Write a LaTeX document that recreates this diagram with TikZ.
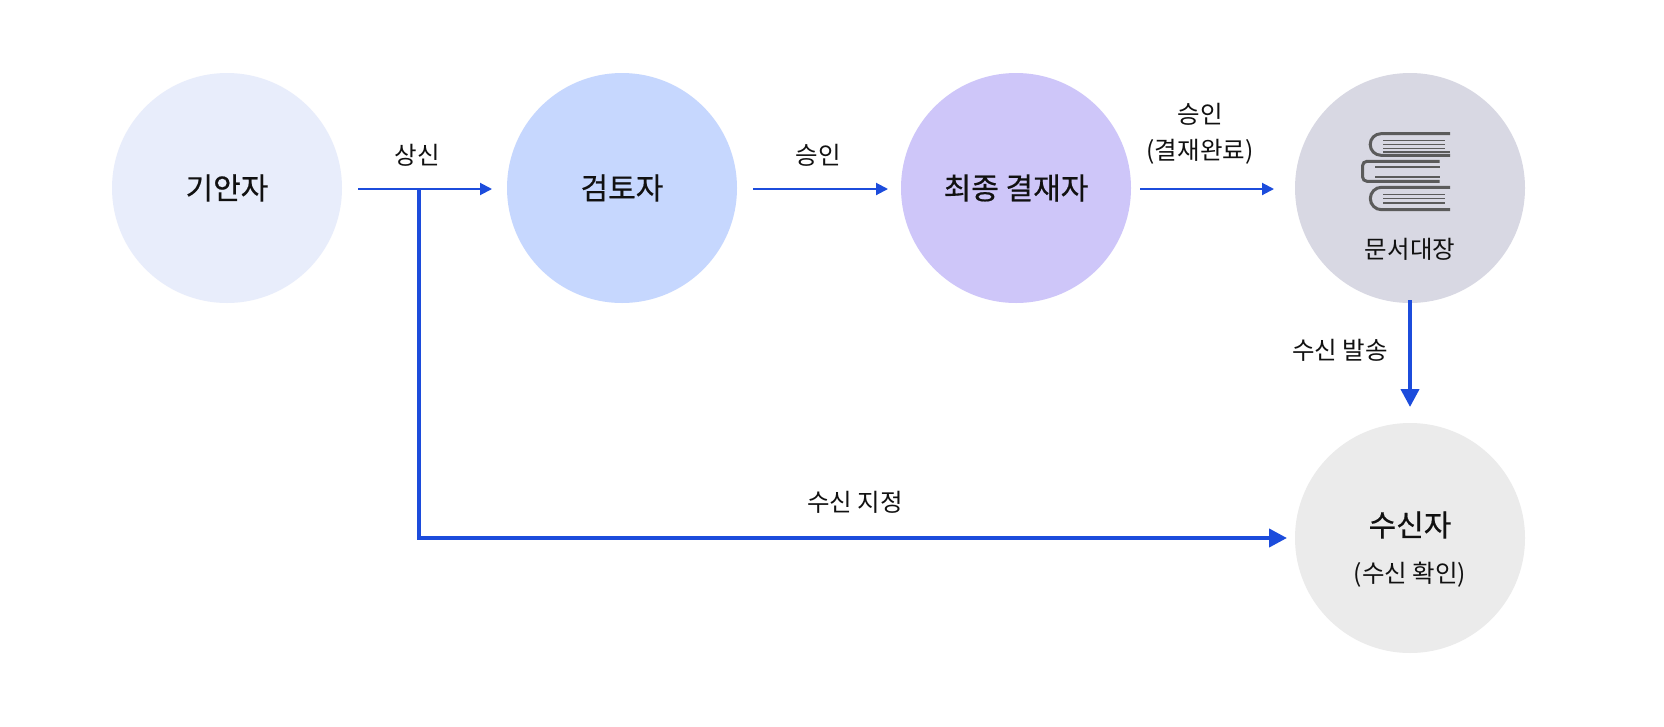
\documentclass[tikz,border=0pt]{standalone}
\usepackage{fontspec}
\setmainfont{Noto Sans CJK KR}
\newfontfamily\medfont{Noto Sans CJK KR}[FakeBold=0.5]
\usetikzlibrary{arrows.meta}
\definecolor{cA}{HTML}{E8EDFB}
\definecolor{cB}{HTML}{C6D7FE}
\definecolor{cC}{HTML}{CEC6F9}
\definecolor{cD}{HTML}{D8D8E3}
\definecolor{cE}{HTML}{EBEBEB}
\definecolor{arr}{HTML}{1C4CDC}
\definecolor{icon}{HTML}{5B5B5B}
\definecolor{txt}{HTML}{111111}
\tikzset{
  role/.style={circle, minimum size=230pt, inner sep=0pt, draw=none},
  big/.style={font=\medfont\fontsize{30}{36}\selectfont, text=txt},
  lbl/.style={font=\fontsize{24.5}{30}\selectfont, text=txt, inner sep=0pt},
  thin/.style={draw=arr, line width=2pt, -{Triangle[length=12pt,width=12pt]}},
  thick/.style={draw=arr, line width=4pt, -{Triangle[length=18pt,width=18pt]}},
  thickline/.style={draw=arr, line width=4pt},
  cover/.style={draw=icon, line width=3pt},
  page/.style={draw=icon, line width=1.5pt},
}
\begin{document}
\begin{tikzpicture}[x=1pt,y=-1pt]
\useasboundingbox (0,0) rectangle (1664,726);
\fill[white] (0,0) rectangle (1664,726);
% circles
\node[role, fill=cA, big] (drafter) at (227,188) {기안자};
\node[role, fill=cB, big] (reviewer) at (622,188) {검토자};
\node[role, fill=cC, big] (final) at (1016,188) {최종 결재자};
\node[role, fill=cD] (ledger) at (1410,188) {};
\node[role, fill=cE] (recv) at (1410,538) {};
\node[big, inner sep=0pt] (recvt) at (1410,525) {수신자};
\node[lbl] (recvs) at (1410,575) {(수신 확인)};
\node[lbl] (ledgert) at (1410,249) {문서대장};
% book icon
\draw[cover] (1450,133.7) -- (1381,133.7) arc[start angle=270,end angle=90,radius=10.8] -- (1450,155.3);
\foreach \yy in {140.3,144.7,148.7} \draw[page] (1383,\yy) -- (1445,\yy);
\draw[page] (1383,152) -- (1450,152);
\draw[cover] (1439.7,161.3) -- (1367,161.3) arc[start angle=270,end angle=180,radius=4.5] -- (1362.5,176.8) arc[start angle=180,end angle=90,radius=4.5] -- (1439.7,181.3);
\foreach \yy in {167,177} \draw[page] (1375,\yy) -- (1440,\yy);
\draw[cover] (1450,187.3) -- (1381.5,187.3) arc[start angle=270,end angle=90,radius=11.2] -- (1450,209.7);
\foreach \yy in {194.7,198.7,203} \draw[page] (1383,\yy) -- (1445,\yy);
% connector coordinates
\coordinate (a1s) at (358,189);
\coordinate (a1e) at (492,189);
\coordinate (a2s) at (753,189);
\coordinate (a2e) at (888,189);
\coordinate (a3s) at (1140,189);
\coordinate (a3e) at (1274,189);
\coordinate (br) at (419,189);
\coordinate (corner) at (419,538);
\coordinate (recvin) at (1287,538);
\coordinate (ls) at (1410,300);
\coordinate (le) at (1410,407);
% arrows
\draw[thin] (a1s) -- (a1e);
\draw[thin] (a2s) -- (a2e);
\draw[thin] (a3s) -- (a3e);
\draw[thickline] (br) -- (corner);
\draw[thick] ([xshift=-2pt]corner) -- (recvin);
\draw[thick] (ls) -- (le);
% labels
\node[lbl] (l1) at (417,155) {상신};
\node[lbl] (l2) at (818,155) {승인};
\node[lbl] (l3a) at (1200,114) {승인};
\node[lbl] (l3b) at (1200,152) {(결재완료)};
\node[lbl] (l4) at (1340,350) {수신 발송};
\node[lbl] (l5) at (855,502) {수신 지정};
\end{tikzpicture}
\end{document}
